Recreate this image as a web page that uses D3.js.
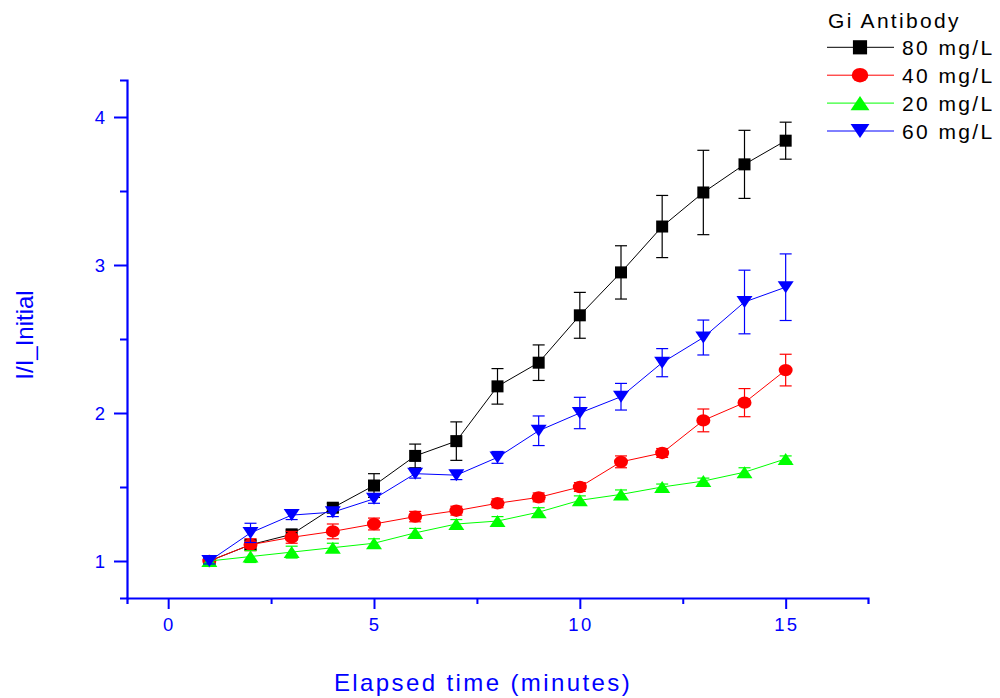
<!DOCTYPE html>
<html>
<head>
<meta charset="utf-8">
<script src="https://cdn.jsdelivr.net/npm/d3@7"></script>
<style>
  body { margin: 0; background: #fff; }
  svg { font-family: "Liberation Sans", Arial, sans-serif; }
</style>
</head>
<body>
<div id="chart"></div>
<script>
const minutes = [1, 2, 3, 4, 5, 6, 7, 8, 9, 10, 11, 12, 13, 14, 15];

const mg80 = [1.00, 1.11, 1.18, 1.36, 1.51, 1.71, 1.81, 2.18, 2.34, 2.66, 2.95, 3.26, 3.49, 3.68, 3.84];
const mg80Err = [0.02, 0.03, 0.03, 0.03, 0.08, 0.08, 0.13, 0.12, 0.12, 0.155, 0.18, 0.21, 0.285, 0.23, 0.125];

const mg40 = [1.00, 1.11, 1.16, 1.20, 1.25, 1.30, 1.34, 1.39, 1.43, 1.50, 1.67, 1.73, 1.95, 2.07, 2.29];
const mg40Err = [0.02, 0.04, 0.04, 0.05, 0.04, 0.035, 0.03, 0.03, 0.03, 0.03, 0.04, 0.03, 0.077, 0.095, 0.107];

const mg20 = [1.00, 1.03, 1.06, 1.09, 1.12, 1.19, 1.25, 1.27, 1.33, 1.41, 1.45, 1.50, 1.54, 1.60, 1.69];
const mg20Err = [0.02, 0.04, 0.04, 0.03, 0.03, 0.03, 0.03, 0.03, 0.03, 0.03, 0.03, 0.02, 0.02, 0.03, 0.02];

const mg60 = [1.00, 1.19, 1.31, 1.33, 1.42, 1.59, 1.58, 1.70, 1.88, 2.00, 2.11, 2.34, 2.51, 2.75, 2.85];
const mg60Err = [0.02, 0.065, 0.03, 0.03, 0.03, 0.03, 0.03, 0.04, 0.10, 0.106, 0.09, 0.095, 0.118, 0.215, 0.225];

const xTicks = [0, 5, 10, 15];
const yTicks = [1, 2, 3, 4];

const series = [
  {name: "80 mg/L", values: mg80, err: mg80Err, color: "#000000", shape: "square"},
  {name: "40 mg/L", values: mg40, err: mg40Err, color: "#ff0000", shape: "circle"},
  {name: "20 mg/L", values: mg20, err: mg20Err, color: "#00ff00", shape: "up"},
  {name: "60 mg/L", values: mg60, err: mg60Err, color: "#0000ff", shape: "down"}
];

const W = 1000, H = 698;
const svg = d3.select("#chart").append("svg")
  .attr("width", W)
  .attr("height", H);

const x = d3.scaleLinear().domain([-1, 17]).range([127, 868]);
const y = d3.scaleLinear().domain([0.75, 4.25]).range([598, 80]);

const axisColor = "#0000ff";

// draw one marker centred at (0,0); k scales it (legend markers are bigger)
function marker(sel, shape, color, k) {
  if (shape == "square") {
    const s = 12 * k;
    sel.append("rect").attr("x", -s / 2).attr("y", -s / 2)
      .attr("width", s).attr("height", s).attr("fill", color);
  } else if (shape == "circle") {
    sel.append("ellipse").attr("rx", 7 * k).attr("ry", 6.2 * k).attr("fill", color);
  } else {
    const w = 8 * k, h = 6 * k;
    const pts = shape == "up"
      ? [[-w, h], [w, h], [0, -h]]
      : [[-w, -h], [w, -h], [0, h]];
    sel.append("path").attr("d", "M" + pts.join("L") + "Z").attr("fill", color);
  }
}

// x axis
const gx = svg.append("g").attr("transform", `translate(0, ${y.range()[0]})`);
gx.call(d3.axisBottom(x).tickValues(d3.range(0, 17.1, 2.5)).tickSize(6).tickFormat(""));
gx.call(g => g.selectAll(".tick").filter(d => xTicks.includes(d)).select("line").attr("y2", 11));
gx.append("g").selectAll("text")
  .data(xTicks)
  .join("text")
    .attr("x", d => x(d) + 1.2)
    .attr("y", 33)
    .attr("text-anchor", "middle")
    .attr("fill", axisColor)
    .style("font-size", "18.5px")
    .style("letter-spacing", "2.4px")
    .text(d => d);

// y axis
const gy = svg.append("g").attr("transform", `translate(${x.range()[0]}, 0)`);
gy.call(d3.axisLeft(y).tickValues(d3.range(1, 4.01, 0.5)).tickSize(7).tickFormat(""));
gy.call(g => g.selectAll(".tick").filter(d => yTicks.includes(d)).select("line").attr("x2", -13));
gy.append("g").selectAll("text")
  .data(yTicks)
  .join("text")
    .attr("x", -22)
    .attr("y", d => y(d))
    .attr("dy", "0.36em")
    .attr("text-anchor", "end")
    .attr("fill", axisColor)
    .style("font-size", "18.5px")
    .text(d => d);

svg.selectAll(".domain").attr("stroke", axisColor).attr("stroke-width", 2.2);
svg.selectAll(".tick line").attr("stroke", axisColor).attr("stroke-width", 2);

// axis titles
svg.append("text")
  .attr("x", 483)
  .attr("y", 691)
  .attr("text-anchor", "middle")
  .attr("fill", axisColor)
  .style("font-size", "24px")
  .style("letter-spacing", "2.4px")
  .text("Elapsed time (minutes)");

svg.append("text")
  .attr("transform", "translate(33, 335) rotate(-90)")
  .attr("text-anchor", "middle")
  .attr("fill", axisColor)
  .style("font-size", "24px")
  .text("I/I_Initial");

// series
const line = d3.line()
  .x((d, i) => x(minutes[i]))
  .y(d => y(d));

series.forEach(s => {
  const g = svg.append("g");
  const pts = s.values.map((v, i) => ({t: minutes[i], v: v, e: s.err[i]}));
  // error bars
  const eb = g.selectAll(".err")
    .data(pts)
    .join("g")
      .attr("stroke", s.color)
      .attr("stroke-width", 1.2);
  eb.append("line")
    .attr("x1", d => x(d.t)).attr("x2", d => x(d.t))
    .attr("y1", d => y(d.v - d.e)).attr("y2", d => y(d.v + d.e));
  eb.append("line")
    .attr("x1", d => x(d.t) - 6).attr("x2", d => x(d.t) + 6)
    .attr("y1", d => y(d.v + d.e)).attr("y2", d => y(d.v + d.e));
  eb.append("line")
    .attr("x1", d => x(d.t) - 6).attr("x2", d => x(d.t) + 6)
    .attr("y1", d => y(d.v - d.e)).attr("y2", d => y(d.v - d.e));

  g.append("path")
    .datum(s.values)
    .attr("fill", "none")
    .attr("stroke", s.color)
    .attr("stroke-width", 1)
    .attr("d", line);

  g.selectAll(".pt")
    .data(pts)
    .join("g")
      .attr("transform", d => `translate(${x(d.t)}, ${y(d.v)})`)
      .each(function() { marker(d3.select(this), s.shape, s.color, 1); });
});

// legend
const legend = svg.append("g").attr("transform", "translate(827, 0)");
legend.append("text")
  .attr("x", 1)
  .attr("y", 28)
  .attr("fill", "#000")
  .style("font-size", "21px")
  .style("letter-spacing", "2.3px")
  .text("Gi Antibody");

const li = legend.selectAll(".li")
  .data(series)
  .join("g")
    .attr("transform", (d, i) => `translate(0, ${47.3 + i * 27.9})`);
li.append("line")
  .attr("x1", 0).attr("x2", 67)
  .attr("stroke", d => d.color)
  .attr("stroke-width", 1);
li.append("g")
  .attr("transform", "translate(33, 0)")
  .each(function(d) { marker(d3.select(this), d.shape, d.color, 1.18); });
li.append("text")
  .attr("x", 75)
  .attr("dy", "0.36em")
  .attr("fill", "#000")
  .style("font-size", "21px")
  .style("letter-spacing", "2.4px")
  .text(d => d.name);
</script>
</body>
</html>
